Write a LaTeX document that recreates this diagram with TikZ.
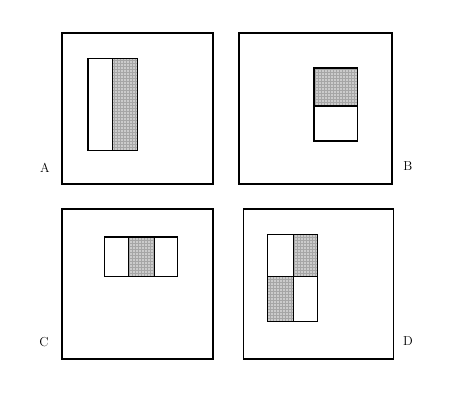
\documentclass[tikz,border=0pt]{standalone}
\usetikzlibrary{patterns}

\begin{document}
\begin{tikzpicture}[x=1pt,y=-1pt,line join=miter]
  \tikzstyle{frame}=[draw,line width=1.8pt]
  \tikzstyle{cell}=[draw,line width=1.8pt]
  \tikzstyle{dark}=[fill=gray!40,postaction={pattern=grid,pattern color=gray!70},postaction={draw,line width=1.8pt}]
  \tikzstyle{tag}=[font=\fontsize{13}{15}\selectfont]
  \useasboundingbox (0,0) rectangle (456,405);
  % outer squares
  \draw[frame] (62,33) rectangle (213,184);
  \draw[frame] (239,33) rectangle (392,184);
  \draw[frame] (62,209) rectangle (213,359);
  \draw[frame] (243.5,209) rectangle (393.5,359);
  % A: two vertical bars
  \draw[cell] (88,58.5) rectangle (112.5,150.5);
  \path[dark] (112.5,58.5) rectangle (137.5,150.5);
  % B: two horizontal bars
  \path[dark] (314,68) rectangle (357.5,106);
  \draw[cell] (314,106) rectangle (357.5,141);
  % C: three vertical bars
  \draw[cell] (104.5,237) rectangle (128.5,276.5);
  \path[dark] (128.5,237) rectangle (154.5,276.5);
  \draw[cell] (154.5,237) rectangle (177.5,276.5);
  % D: checker of four
  \draw[cell] (267.5,234.5) rectangle (293.5,276.5);
  \path[dark] (293.5,234.5) rectangle (317.5,276.5);
  \path[dark] (267.5,276.5) rectangle (293.5,321.5);
  \draw[cell] (293.5,276.5) rectangle (317.5,321.5);
  % labels
  \node[tag] (labA) at (45,168) {A};
  \node[tag] (labB) at (408,166) {B};
  \node[tag] (labC) at (44,342) {C};
  \node[tag] (labD) at (408,341) {D};
\end{tikzpicture}
\end{document}
